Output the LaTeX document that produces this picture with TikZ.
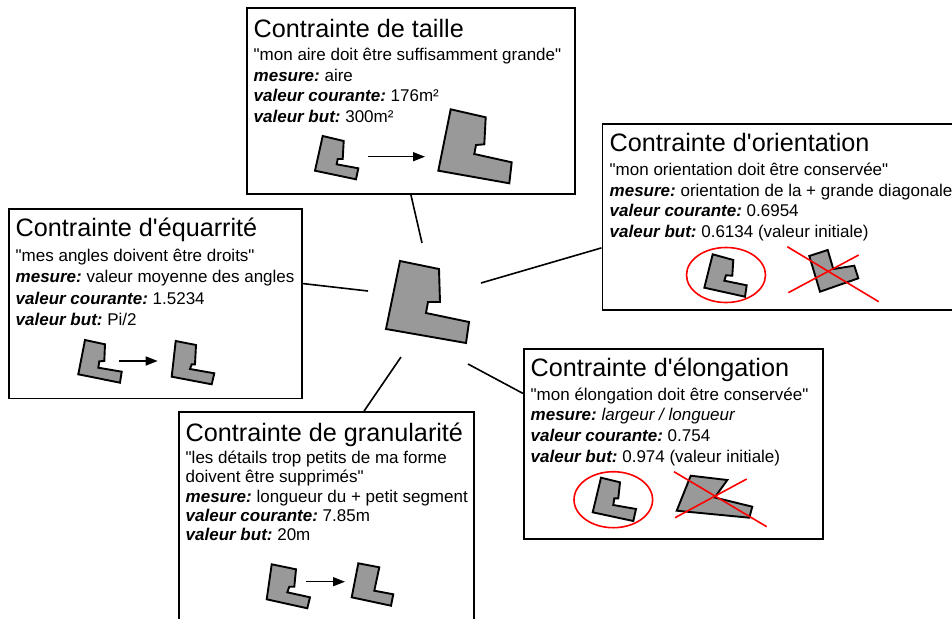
\documentclass[tikz,border=0pt]{standalone}
\usepackage{fontspec}
\setmainfont{Liberation Sans}[Ligatures=TeXOff]
\usetikzlibrary{arrows.meta,calc}
\newcommand\cbi[1]{{\bfseries\itshape #1}}
\definecolor{shapegrey}{RGB}{153,153,153}
\frenchspacing
\begin{document}
\frenchspacing
\begin{tikzpicture}[x=1pt,y=-1pt,
  cbox/.style={draw, line width=1.8pt, rectangle, inner sep=0pt, anchor=north west},
  ttl/.style={anchor=base west, inner sep=0pt, font=\fontsize{25.2}{30}\selectfont},
  bdy/.style={anchor=base west, inner sep=0pt, font=\fontsize{17}{20}\selectfont\frenchspacing},
  lshape/.style={draw, fill=shapegrey, line width=1.9pt, line join=miter},
  conn/.style={draw, line width=1.6pt},
  smallarrow/.style={draw, line width=1.5pt, -{Triangle[length=12pt,width=9pt]}},
  redmark/.style={draw=red, line width=1.6pt}]
\useasboundingbox (0,0) rectangle (952,618);
\clip (0,0) rectangle (952,618);
\fill[white] (0,0) rectangle (952,618);

% ---------- boxes ----------
\node[cbox, minimum width=328pt, minimum height=185.5pt] (taille) at (246,7.5) {};
\node[cbox, minimum width=362pt, minimum height=186pt] (orient) at (601.5,123) {};
\node[cbox, minimum width=293pt, minimum height=189.5pt] (equar) at (8,208) {};
\node[cbox, minimum width=299pt, minimum height=190pt] (elong) at (523,348) {};
\node[cbox, minimum width=295pt, minimum height=225pt] (granu) at (178,411) {};

% ---------- taille ----------
\node[ttl] (tT) at (253.5,37.3) {Contrainte de taille};
\node[bdy] (tL1) at (253.5,60.7) {"mon aire doit être suffisamment grande"};
\node[bdy] (tL2) at (253.5,81.3) {\cbi{mesure:} aire};
\node[bdy] (tL3) at (253.5,101.9) {\cbi{valeur courante:} 176m²};
\node[bdy] (tL4) at (253.5,122.5) {\cbi{valeur but:} 300m²};
\draw[lshape] (322.7,136) -- (343.7,141) -- (342.7,159) -- (337.7,159) -- (336.7,164.3) -- (358.3,168.3) -- (356,179.3) -- (315,170.7) -- cycle;
\draw[lshape] (450.7,109.3) -- (485.7,117.3) -- (484.3,144.3) -- (476,145) -- (474.3,154) -- (511.7,162.3) -- (509.3,183.3) -- (438.3,170.7) -- cycle;
\coordinate (tA1) at (367.7,156.7);
\coordinate (tA2) at (425,156.7);
\draw[smallarrow] (tA1) -- (tA2);

% ---------- orientation ----------
\node[ttl] (oT) at (609.5,151.7) {Contrainte d'orientation};
\node[bdy] (oL1) at (609.5,175) {"mon orientation doit être conservée"};
\node[bdy] (oL2) at (609.5,196) {\cbi{mesure:} orientation de la + grande diagonale};
\node[bdy] (oL3) at (609.5,216.7) {\cbi{valeur courante:} 0.6954};
\node[bdy] (oL4) at (609.5,237.3) {\cbi{valeur but:} 0.6134 (valeur initiale)};
\draw[lshape] (712.7,254.3) -- (733.3,260) -- (732.3,275.7) -- (726,275.3) -- (724.3,280.7) -- (746.7,285.3) -- (745,296.7) -- (704.3,287.7) -- cycle;
\draw[redmark] (726,275) ellipse [x radius=39.5, y radius=27.5];
\draw[lshape] (809.3,256) -- (827.7,250) -- (833.3,269) -- (854.3,265.7) -- (858.3,278.3) -- (820,291.7) -- cycle;
\draw[redmark] (787.3,246.7) -- (878.7,301.7);
\draw[redmark] (788.3,292.7) -- (858.7,255);

% ---------- equarrite ----------
\node[ttl] (eT) at (15.5,236.7) {Contrainte d'équarrité};
\node[bdy] (eL1) at (15.5,261) {"mes angles doivent être droits"};
\node[bdy] (eL2) at (15.5,282.3) {\cbi{mesure:} valeur moyenne des angles};
\node[bdy] (eL3) at (15.5,304) {\cbi{valeur courante:} 1.5234};
\node[bdy] (eL4) at (15.5,325) {\cbi{valeur but:} Pi/2};
\draw[lshape] (85,340) -- (105,344.3) -- (104.3,361) -- (99.3,361.3) -- (98.3,367.7) -- (121.7,371.7) -- (120,382.7) -- (78.3,374.3) -- cycle;
\coordinate (eA1) at (119.3,361);
\coordinate (eA2) at (157.7,361);
\draw[smallarrow] (eA1) -- (eA2);
\draw[lshape] (175.7,341) -- (196,345) -- (195,364.3) -- (191.7,364.3) -- (190,369) -- (214.3,373.3) -- (211.7,384.3) -- (171.7,376.7) -- cycle;

% ---------- elongation ----------
\node[ttl] (lT) at (530.5,376.7) {Contrainte d'élongation};
\node[bdy] (lL1) at (530.5,400) {"mon élongation doit être conservée"};
\node[bdy] (lL2) at (530.5,420.5) {\cbi{mesure:} \textit{largeur / longueur}};
\node[bdy] (lL3) at (530.5,441.5) {\cbi{valeur courante:} 0.754};
\node[bdy] (lL4) at (530.5,462.3) {\cbi{valeur but:} 0.974 (valeur initiale)};
\draw[lshape] (601,477.7) -- (620,482.3) -- (618.3,498.3) -- (614.3,498.3) -- (613.3,505) -- (636,509) -- (633.3,521) -- (592.7,512.3) -- cycle;
\draw[redmark] (613.3,499.7) ellipse [x radius=39.3, y radius=28];
\draw[lshape] (690.7,475.7) -- (727.3,480) -- (714.7,497.5) -- (752.3,506.7) -- (749.3,517.7) -- (676.7,510.7) -- cycle;
\draw[redmark] (674,471.7) -- (766.7,526.7);
\draw[redmark] (675,517.7) -- (746.7,479);

% ---------- granularite ----------
\node[ttl] (gT) at (185.5,441.3) {Contrainte de granularité};
\node[bdy] (gL1) at (185.5,463) {"les détails trop petits de ma forme};
\node[bdy] (gL2) at (185.5,482.5) {doivent être supprimés"};
\node[bdy] (gL3) at (185.5,502) {\cbi{mesure:} longueur du + petit segment};
\node[bdy] (gL4) at (185.5,521.3) {\cbi{valeur courante:} 7.85m};
\node[bdy] (gL5) at (185.5,540.7) {\cbi{valeur but:} 20m};
\draw[lshape] (271.7,564.3) -- (296,569.3) -- (294.3,586.7) -- (289.3,586.7) -- (287.3,592.3) -- (310,597.3) -- (307.3,608.3) -- (266.7,599.3) -- cycle;
\coordinate (gA1) at (306,581.7);
\coordinate (gA2) at (345,581.7);
\draw[smallarrow] (gA1) -- (gA2);
\draw[lshape] (358.3,563.3) -- (379.3,567.3) -- (374.3,590.7) -- (393.3,594.3) -- (391,605.7) -- (351.7,597.3) -- cycle;

% ---------- central shape ----------
\draw[lshape] (400,261) -- (439,269) -- (440,302) -- (428,302) -- (426,313) -- (469,322) -- (466,343) -- (386,329) -- cycle;
\coordinate (cT) at (422,243);
\coordinate (cE) at (368,291);
\coordinate (cO) at (481,283);
\coordinate (cL) at (468,364);
\coordinate (cG) at (401,357);

% ---------- connectors ----------
\draw[conn] (taille.south) -- (cT);
\draw[conn] ($(equar.north east)!0.395!(equar.south east)$) -- (cE);
\draw[conn] ($(orient.north west)!0.665!(orient.south west)$) -- (cO);
\draw[conn] ($(elong.north west)!0.237!(elong.south west)$) -- (cL);
\draw[conn] ($(granu.north west)!0.627!(granu.north east)$) -- (cG);
\end{tikzpicture}
\end{document}
